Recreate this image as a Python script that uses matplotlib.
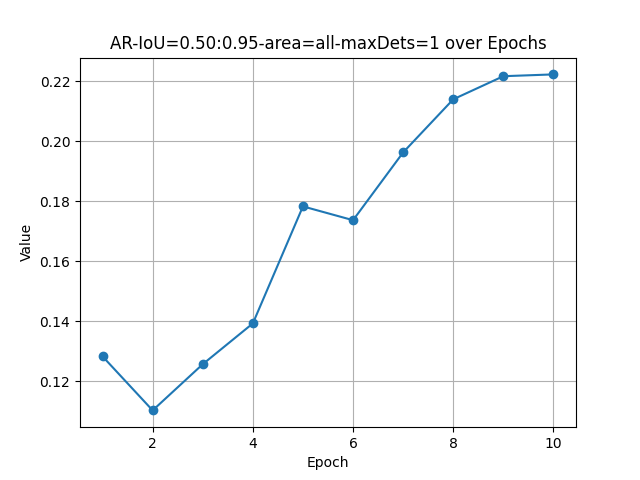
import matplotlib
matplotlib.use('Agg')
import matplotlib.pyplot as plt

# values
epochs = [1, 2, 3, 4, 5, 6, 7, 8, 9, 10]
values = [0.1283, 0.1103, 0.1257, 0.1393, 0.1783, 0.1737, 0.1963, 0.2140, 0.2217, 0.2223]

fig, ax = plt.subplots(figsize=(6.4, 4.8), dpi=100)
ax.plot(epochs, values, marker='o')
ax.set_title('AR-IoU=0.50:0.95-area=all-maxDets=1 over Epochs')
ax.set_xlabel('Epoch')
ax.set_ylabel('Value')
ax.grid(True)

fig.savefig('out.png')
